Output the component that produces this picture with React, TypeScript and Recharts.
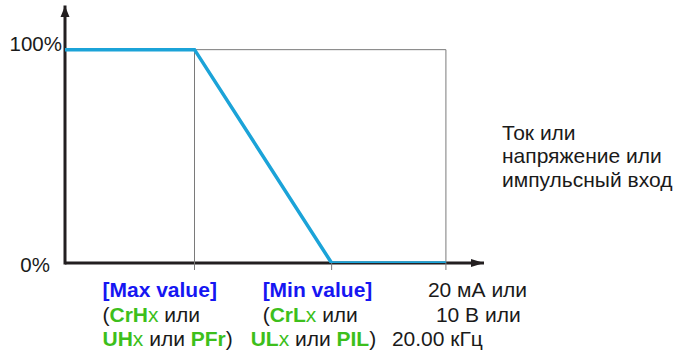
import React from "react";
import { LineChart, Line, XAxis, YAxis, ReferenceLine, ReferenceDot } from "recharts";

// Основная характеристика (ток/напряжение -> %)
const xValues = [0, 6.8, 14, 20];
const yValues = [100, 100, 0, 0];

const yTicks = [0, 100];
const yTickLabels: Record<number, string> = { 0: "0%", 100: "100%" };

const xTicks = [6.8, 14, 20];
const xMax = 22;
const yMax = 120;

type Seg = [string, "blue" | "greenB" | "green" | "black"];

const xTickLines: Record<number, Seg[][]> = {
  6.8: [
    [["[Max value]", "blue"]],
    [["(", "black"], ["CrH", "greenB"], ["x", "green"], [" или", "black"]],
    [["UH", "greenB"], ["x", "green"], [" или ", "black"], ["PFr", "greenB"], [")", "black"]],
  ],
  14: [
    [["[Min value]", "blue"]],
    [["(", "black"], ["CrL", "greenB"], ["x", "green"], [" или", "black"]],
    [["UL", "greenB"], ["x", "green"], [" или ", "black"], ["PIL", "greenB"], [")", "black"]],
  ],
  20: [[["20 мА или", "black"]], [["10 В или", "black"]], [["20.00 кГц", "black"]]],
};

const axisLabel = ["Ток или", "напряжение или", "импульсный вход"];

const chartData = xValues.map((x, i) => ({ x, y: yValues[i] }));

const FONT = "'Liberation Sans', Arial, sans-serif";
const LINE_COLOR = "#1ba3d8";
const GRAY = "#7a7a7a";
const AXIS = "#231f20";

const segStyle = {
  blue: { fill: "#1616f2", fontWeight: 700 },
  greenB: { fill: "#3dbf1c", fontWeight: 700 },
  green: { fill: "#3dbf1c", fontWeight: 400 },
  black: { fill: "#1a1a1a", fontWeight: 400 },
};

// смещения строк подписи относительно риски
const lineDx: Record<number, number[]> = {
  6.8: [-92, -92, -92],
  14: [-69, -69, -81],
  20: [-18, -10, -54],
};
const lineDy = [26.5, 51.5, 75.5];

function XTick(props: any) {
  const { x, y, payload } = props;
  const lines = xTickLines[payload.value] || [];
  const dx = lineDx[payload.value] || [0, 0, 0];
  return (
    <g>
      {lines.map((segs, i) => (
        <text
          key={i}
          x={x + dx[i]}
          y={y + lineDy[i]}
          fontSize={21}
          fontFamily={FONT}
          textAnchor="start"
          style={{ whiteSpace: "pre" }}
        >
          {segs.map(([t, s], j) => (
            <tspan key={j} {...segStyle[s]}>
              {t}
            </tspan>
          ))}
        </text>
      ))}
    </g>
  );
}

function YTick(props: any) {
  const { x, y, payload } = props;
  const isZero = payload.value === 0;
  return (
    <text
      x={x + (isZero ? -12 : 0)}
      y={y + (isZero ? 8.5 : 1.5)}
      textAnchor="end"
      fontSize={20.5}
      fontFamily={FONT}
      fill="#1a1a1a"
    >
      {yTickLabels[payload.value]}
    </text>
  );
}

const upArrow = (p: any) => (
  <path d={`M${p.cx},${p.cy - 1} L${p.cx + 4.5},${p.cy + 10} L${p.cx - 4.5},${p.cy + 10} Z`} fill={AXIS} />
);
const rightArrow = (p: any) => (
  <path d={`M${p.cx},${p.cy} L${p.cx - 13},${p.cy + 4} L${p.cx - 13},${p.cy - 4} Z`} fill={AXIS} />
);

export default function App() {
  return (
    <div style={{ position: "absolute", left: 0, top: 0, width: 673, height: 351, background: "#fff" }}>
      <LineChart
        width={673}
        height={351}
        data={chartData}
        margin={{ top: 7, right: 189, bottom: 0, left: 0 }}
      >
        <XAxis
          type="number"
          dataKey="x"
          domain={[0, xMax]}
          ticks={xTicks}
          interval={0}
          allowDataOverflow
          height={88}
          axisLine={false}
          tickLine={{ stroke: GRAY, strokeWidth: 1 }}
          tickSize={7}
          tickMargin={0}
          tick={<XTick />}
        />
        <YAxis
          type="number"
          domain={[0, yMax]}
          ticks={yTicks}
          interval={0}
          allowDataOverflow
          width={65}
          axisLine={{ stroke: AXIS, strokeWidth: 3, strokeLinecap: "square" }}
          tickLine={false}
          tickSize={0}
          tickMargin={3}
          tick={<YTick />}
        />

        {/* ось X и рамка */}
        <ReferenceLine
          segment={[{ x: 0, y: 0 }, { x: xMax, y: 0 }]}
          stroke={AXIS}
          strokeWidth={3}
          ifOverflow="visible"
          zIndex={300}
        />
        <ReferenceLine segment={[{ x: 6.8, y: 100 }, { x: 20, y: 100 }]} stroke={GRAY} strokeWidth={1} zIndex={300} />
        <ReferenceLine segment={[{ x: 20, y: 0 }, { x: 20, y: 100 }]} stroke={GRAY} strokeWidth={1} zIndex={300} />
        <ReferenceLine segment={[{ x: 6.8, y: 0 }, { x: 6.8, y: 100 }]} stroke={GRAY} strokeWidth={1} zIndex={300} />

        <ReferenceDot x={0} y={yMax} ifOverflow="visible" shape={upArrow} />
        <ReferenceDot x={xMax} y={0} ifOverflow="visible" shape={rightArrow} />

        <Line
          type="linear"
          dataKey="y"
          stroke={LINE_COLOR}
          strokeWidth={3.5}
          dot={false}
          activeDot={false}
          isAnimationActive={false}
          zIndex={700}
        />
      </LineChart>
      <div
        style={{
          position: "absolute",
          left: 502,
          top: 120.5,
          fontFamily: FONT,
          fontSize: 21,
          lineHeight: "23.5px",
          color: "#1a1a1a",
          whiteSpace: "nowrap",
        }}
      >
        {axisLabel.map((t, i) => (
          <div key={i}>{t}</div>
        ))}
      </div>
    </div>
  );
}
